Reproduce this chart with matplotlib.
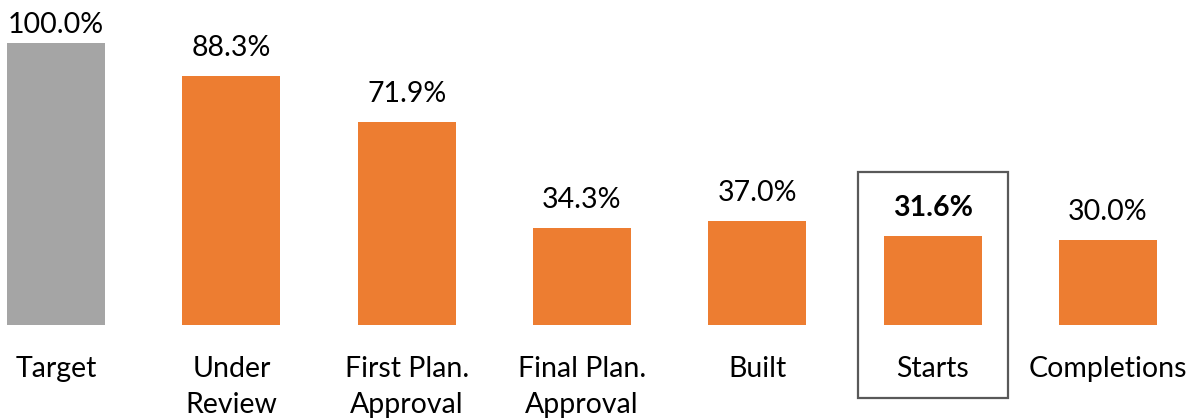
import matplotlib
matplotlib.use("Agg")
import matplotlib.pyplot as plt
from matplotlib.patches import Rectangle

categories = ["Target", "Under\nReview", "First Plan.\nApproval", "Final Plan.\nApproval",
              "Built", "Starts", "Completions"]
values = [100.0, 88.3, 71.9, 34.3, 37.0, 31.6, 30.0]
value_labels = ["100.0%", "88.3%", "71.9%", "34.3%", "37.0%", "31.6%", "30.0%"]
highlight = "Starts"

GRAY = "#A5A5A5"
ORANGE = "#ED7D31"
W, H = 1203, 418
DPI = 100

plt.rcParams['font.family'] = ['Lato', 'DejaVu Sans']

fig = plt.figure(figsize=(W / DPI, H / DPI), dpi=DPI)
ax = fig.add_axes([0, 0, 1, 1])

# pixel mapping: bar centres at 56 + i*175.33 px, baseline at y=325 px, 100% at y=43 px
step = 175.33
x0 = 56
ax.set_xlim(-x0 / step, (W - x0) / step)
ppu = (325 - 43) / 100.0
ax.set_ylim(-(H - 325) / ppu, 325 / ppu)
ax.axis("off")

colors = [GRAY] + [ORANGE] * (len(values) - 1)
xs = list(range(len(values)))
ax.bar(xs, values, width=98 / step, color=colors, zorder=2)

def px2y(py):
    return (325 - py) / ppu

def y2px(y):
    return 325 - y * ppu

FS = 20.5
for x, v, lab, cat in zip(xs, values, value_labels, categories):
    bold = (cat == highlight)
    # label baseline 20 px above the bar, but kept inside the chart area
    base_px = max(33, y2px(v) - 20)
    ax.text(x, px2y(base_px), lab, ha="center", va="baseline", fontsize=FS,
            fontweight="bold" if bold else "normal", color="black")
    for j, line in enumerate(cat.split("\n")):
        ax.text(x, px2y(377 + 36 * j), line, ha="center", va="baseline",
                fontsize=FS, color="black")

# highlight box around the "Starts" category
i = categories.index(highlight)
bx0 = i - 75 / step
bw = 150 / step
by0 = px2y(398)
bh = px2y(172) - by0
ax.add_patch(Rectangle((bx0, by0), bw, bh, fill=False, edgecolor="#595959",
                       linewidth=1.6, zorder=3, clip_on=False))

fig.savefig("out.png", dpi=DPI)
